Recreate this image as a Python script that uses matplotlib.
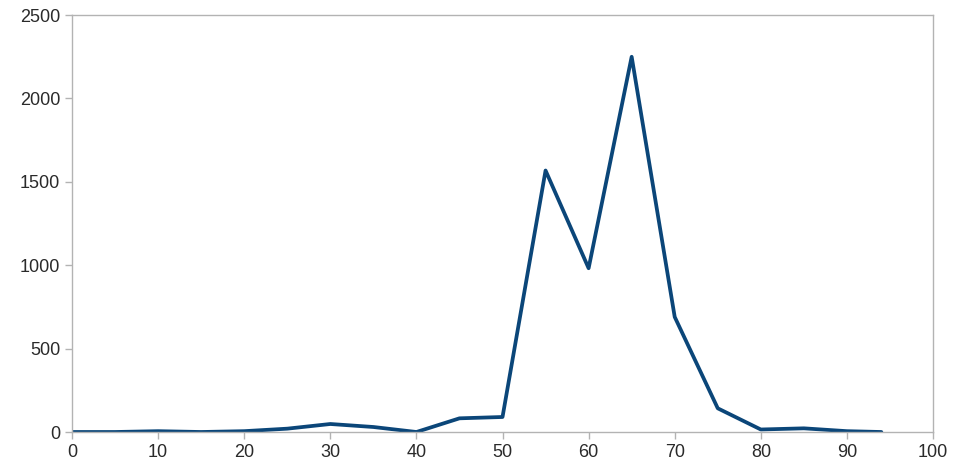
import matplotlib.pyplot as plt

# values
x_vals = [0, 5, 10, 15, 20, 25, 30, 35, 40, 45, 50, 55, 60, 65, 70, 75, 80, 85, 90, 94]
y_vals = [0, 0, 5, 0, 5, 20, 48, 30, 0, 82, 90, 1568, 982, 2250, 690, 142, 15, 22, 5, 0]

x_ticks = [0, 10, 20, 30, 40, 50, 60, 70, 80, 90, 100]
y_ticks = [0, 500, 1000, 1500, 2000, 2500]

plt.rcParams["font.family"] = ["Liberation Sans", "DejaVu Sans"]

fig = plt.figure(figsize=(9.54, 4.71), dpi=100)
ax = fig.add_axes([0.0755, 0.0828, 0.9025, 0.8852])

ax.plot(x_vals, y_vals, color="#0b4679", lw=2.7, solid_joinstyle="round",
        solid_capstyle="round")

ax.set_xlim(0, 100)
ax.set_ylim(0, 2500)
ax.set_xticks(x_ticks)
ax.set_yticks(y_ticks)

for s in ax.spines.values():
    s.set_color("#b3b3b3")
    s.set_linewidth(1.0)
ax.tick_params(colors="#b3b3b3", labelcolor="#2a2a2a", labelsize=13,
               length=5, width=1.0, direction="out")

fig.savefig("out.png", dpi=100)
